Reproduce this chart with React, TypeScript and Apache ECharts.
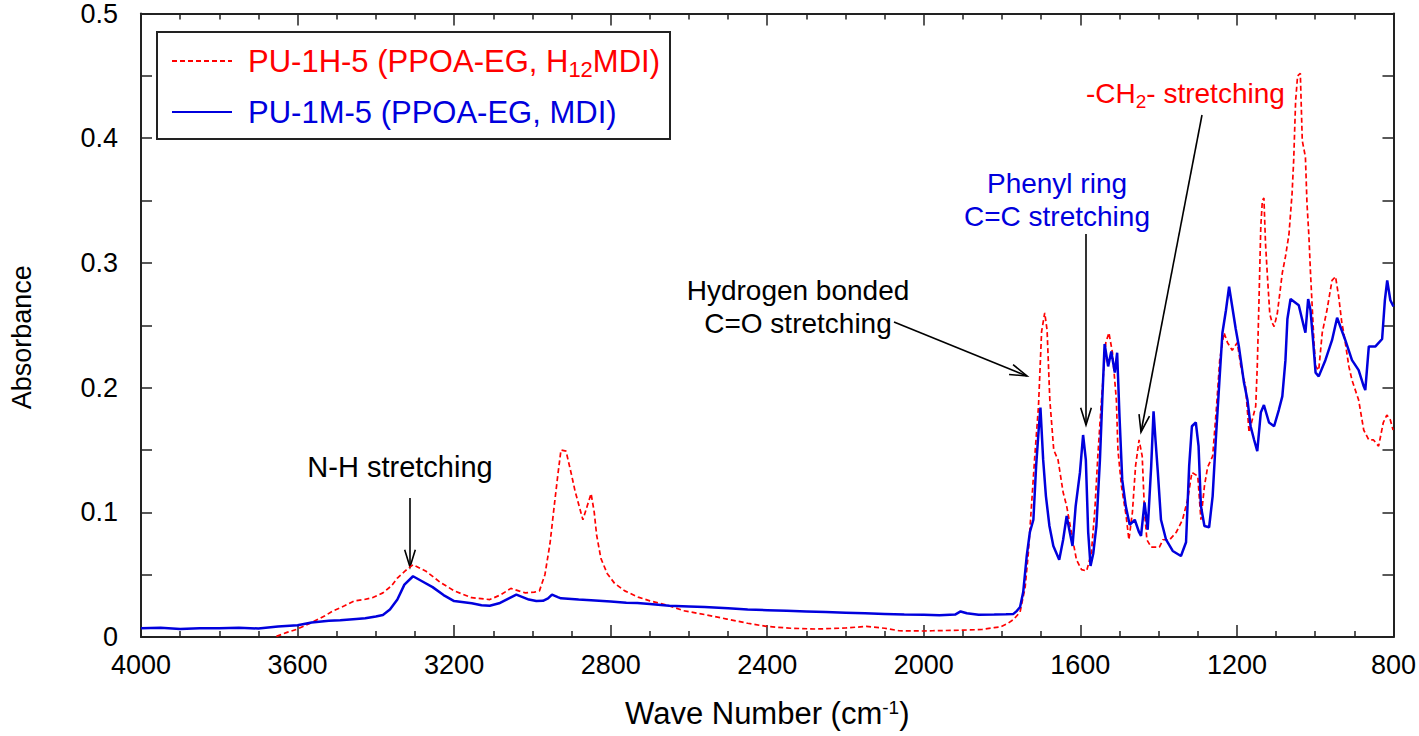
import React, { useEffect, useRef } from 'react';
import * as echarts from 'echarts';

// PU-1M-5 (PPOA-EG, MDI) spectrum
const mdiWaveNumber = [
  4000, 3950, 3900, 3850, 3800, 3750, 3700, 3650, 3600, 3564, 3520, 3491, 3450, 3427, 3400, 3382, 3364, 3345, 3327, 3305,
  3282, 3255, 3227, 3200, 3180, 3155, 3130, 3109, 3085, 3060, 3041, 3025, 3009, 2990, 2973, 2960, 2950, 2935, 2927, 2900,
  2882, 2850, 2800, 2760, 2732, 2700, 2650, 2600, 2560, 2500, 2450, 2400, 2350, 2300, 2250, 2200, 2150, 2100, 2050, 2000,
  1960, 1920, 1906, 1890, 1860, 1820, 1790, 1771, 1762, 1754, 1746, 1737, 1729, 1720, 1713, 1707, 1702, 1695, 1688, 1679,
  1669, 1654, 1644, 1635, 1627, 1620, 1612, 1601, 1593, 1586, 1580, 1574, 1567, 1559, 1550, 1544, 1538, 1529, 1521, 1512,
  1506, 1500, 1493, 1484, 1474, 1461, 1450, 1445, 1436, 1428, 1419, 1413, 1408, 1402, 1394, 1381, 1364, 1343, 1330, 1322,
  1315, 1305, 1298, 1292, 1283, 1271, 1262, 1254, 1245, 1237, 1228, 1220, 1212, 1203, 1195, 1182, 1173, 1165, 1156, 1148,
  1139, 1131, 1118, 1105, 1093, 1084, 1076, 1071, 1063, 1042, 1029, 1025, 1018, 1012, 1006, 999, 991, 974, 957, 944,
  923, 906, 889, 876, 872, 863, 846, 829, 822, 816, 808, 800,
];
const mdiAbsorbance = [
  0.007, 0.0075, 0.0065, 0.007, 0.007, 0.0075, 0.0068, 0.0085, 0.0095, 0.0116, 0.013, 0.0135, 0.0145, 0.015, 0.0165, 0.0177, 0.022, 0.030, 0.042, 0.0487,
  0.0447, 0.040, 0.0336, 0.0288, 0.028, 0.027, 0.0255, 0.025, 0.027, 0.031, 0.034, 0.032, 0.030, 0.0288, 0.029, 0.031, 0.034, 0.032, 0.031, 0.0305,
  0.030, 0.0295, 0.0285, 0.0275, 0.0272, 0.0265, 0.025, 0.0245, 0.024, 0.023, 0.022, 0.0215, 0.021, 0.0205, 0.020, 0.0195, 0.019, 0.0185, 0.018, 0.0178,
  0.0175, 0.018, 0.0205, 0.019, 0.0178, 0.018, 0.0182, 0.0185, 0.021, 0.024, 0.036, 0.065, 0.084, 0.094, 0.137, 0.164, 0.184, 0.142, 0.113, 0.089,
  0.073, 0.062, 0.078, 0.097, 0.084, 0.073, 0.105, 0.132, 0.162, 0.142, 0.084, 0.057, 0.067, 0.089, 0.142, 0.190, 0.235, 0.217, 0.229, 0.212,
  0.228, 0.177, 0.126, 0.105, 0.090, 0.094, 0.084, 0.081, 0.108, 0.086, 0.137, 0.181, 0.158, 0.132, 0.094, 0.078, 0.069, 0.065, 0.076, 0.137,
  0.169, 0.172, 0.153, 0.105, 0.089, 0.088, 0.113, 0.158, 0.204, 0.244, 0.262, 0.281, 0.265, 0.247, 0.233, 0.204, 0.190, 0.169, 0.158, 0.149,
  0.180, 0.186, 0.172, 0.169, 0.182, 0.193, 0.222, 0.255, 0.271, 0.266, 0.249, 0.244, 0.271, 0.262, 0.240, 0.212, 0.209, 0.222, 0.238, 0.256,
  0.238, 0.222, 0.214, 0.201, 0.198, 0.233, 0.233, 0.239, 0.270, 0.286, 0.270, 0.265,
];

// PU-1H-5 (PPOA-EG, H12MDI) spectrum
const h12WaveNumber = [
  3654, 3627, 3600, 3564, 3530, 3509, 3480, 3455, 3430, 3409, 3382, 3360, 3345, 3325, 3305, 3273, 3236, 3200, 3155, 3109,
  3080, 3055, 3035, 3018, 2995, 2982, 2968, 2955, 2945, 2935, 2927, 2914, 2900, 2891, 2871, 2860, 2850, 2842, 2836, 2825,
  2809, 2790, 2764, 2730, 2700, 2650, 2614, 2560, 2503, 2450, 2402, 2340, 2275, 2200, 2147, 2100, 2063, 2000, 1978, 1900,
  1851, 1820, 1805, 1785, 1771, 1754, 1741, 1733, 1726, 1716, 1707, 1699, 1691, 1685, 1678, 1668, 1657, 1644, 1635, 1623,
  1610, 1597, 1584, 1572, 1563, 1555, 1546, 1535, 1527, 1518, 1508, 1504, 1495, 1483, 1476, 1467, 1459, 1450, 1442, 1436,
  1430, 1419, 1398, 1389, 1372, 1355, 1339, 1326, 1315, 1300, 1292, 1283, 1275, 1262, 1252, 1244, 1233, 1224, 1212, 1199,
  1190, 1178, 1169, 1161, 1152, 1148, 1144, 1139, 1135, 1131, 1127, 1122, 1116, 1110, 1105, 1097, 1084, 1076, 1067, 1059,
  1055, 1050, 1045, 1038, 1033, 1025, 1021, 1016, 1012, 1003, 999, 991, 982, 970, 957, 948, 940, 932, 927, 914,
  906, 889, 876, 863, 851, 838, 826, 817, 808, 801,
];
const h12Absorbance = [
  0.0005, 0.0037, 0.0064, 0.0116, 0.017, 0.021, 0.025, 0.029, 0.030, 0.0315, 0.0354, 0.041, 0.0473, 0.053, 0.058, 0.053, 0.044, 0.037, 0.0315, 0.030,
  0.034, 0.039, 0.037, 0.0354, 0.036, 0.037, 0.050, 0.075, 0.103, 0.130, 0.150, 0.149, 0.130, 0.117, 0.094, 0.105, 0.115, 0.100, 0.082, 0.063,
  0.051, 0.043, 0.037, 0.032, 0.029, 0.025, 0.0211, 0.018, 0.0144, 0.011, 0.0085, 0.007, 0.0064, 0.0072, 0.0085, 0.007, 0.005, 0.0048, 0.005, 0.0055,
  0.006, 0.0075, 0.008, 0.011, 0.014, 0.020, 0.040, 0.067, 0.100, 0.147, 0.185, 0.245, 0.260, 0.246, 0.190, 0.150, 0.142, 0.116, 0.105, 0.084,
  0.062, 0.054, 0.053, 0.067, 0.102, 0.147, 0.190, 0.236, 0.244, 0.228, 0.190, 0.150, 0.121, 0.097, 0.078, 0.100, 0.137, 0.158, 0.145, 0.100,
  0.078, 0.072, 0.072, 0.078, 0.078, 0.084, 0.094, 0.110, 0.132, 0.129, 0.094, 0.121, 0.136, 0.145, 0.185, 0.222, 0.244, 0.236, 0.230, 0.236,
  0.217, 0.201, 0.164, 0.174, 0.185, 0.217, 0.265, 0.329, 0.350, 0.352, 0.316, 0.289, 0.259, 0.252, 0.249, 0.259, 0.292, 0.305, 0.323, 0.356,
  0.382, 0.430, 0.450, 0.452, 0.398, 0.385, 0.348, 0.321, 0.292, 0.236, 0.217, 0.214, 0.244, 0.262, 0.286, 0.289, 0.273, 0.252, 0.244, 0.217,
  0.206, 0.190, 0.166, 0.158, 0.158, 0.153, 0.172, 0.178, 0.174, 0.166,
];

const seriesNames = ['PU-1H-5 (PPOA-EG, H12MDI)', 'PU-1M-5 (PPOA-EG, MDI)'];

const RED = '#ff0000';
const BLUE = '#0000dd';
const AXIS = '#222222';
const FONT = '"Liberation Sans", Arial, Helvetica, sans-serif';

function zip(xs: number[], ys: number[]) {
  return xs.map((x, i) => [x, ys[i]]);
}

function arrow(x1: number, y1: number, x2: number, y2: number) {
  const ang = Math.atan2(y2 - y1, x2 - x1);
  const L = 18;
  const a = 0.3;
  const p1 = [x2 - L * Math.cos(ang - a), y2 - L * Math.sin(ang - a)];
  const p2 = [x2 - L * Math.cos(ang + a), y2 - L * Math.sin(ang + a)];
  return [
    { type: 'line', shape: { x1, y1, x2, y2 }, style: { stroke: '#000', lineWidth: 1.6 }, silent: true },
    { type: 'polyline', shape: { points: [p1, [x2, y2], p2] }, style: { stroke: '#000', lineWidth: 1.6, fill: null }, silent: true },
  ];
}

function annotation(x: number, y: number, text: string, color: string, size = 28) {
  return {
    type: 'text',
    x,
    y,
    silent: true,
    style: {
      text,
      fill: color,
      fontSize: size,
      fontFamily: FONT,
      align: 'center',
      verticalAlign: 'middle',
      lineHeight: 33,
    },
  };
}

function makeXAxis(position: 'bottom' | 'top', showLabels: boolean) {
  return {
    type: 'value',
    position,
    min: 800,
    max: 4000,
    interval: 400,
    inverse: true,
    axisLine: { show: true, onZero: false, lineStyle: { color: AXIS, width: 2 } },
    axisTick: { show: true, inside: true, length: 12, lineStyle: { color: AXIS, width: 1.5 } },
    minorTick: { show: true, splitNumber: 4, length: 6, lineStyle: { color: AXIS, width: 1.5 } },
    splitLine: { show: false },
    minorSplitLine: { show: false },
    axisLabel: {
      show: showLabels,
      fontSize: 27,
      color: '#000',
      fontFamily: FONT,
      margin: 14,
      formatter: (v: number) => String(v),
    },
  };
}

function makeYAxis(position: 'left' | 'right', showLabels: boolean) {
  return {
    type: 'value',
    position,
    min: 0,
    max: 0.5,
    interval: 0.1,
    axisLine: { show: true, onZero: false, lineStyle: { color: AXIS, width: 2 } },
    axisTick: { show: true, inside: true, length: 11, lineStyle: { color: AXIS, width: 1.5 } },
    minorTick: { show: true, splitNumber: 2, length: 11, lineStyle: { color: AXIS, width: 1.5 } },
    splitLine: { show: false },
    minorSplitLine: { show: false },
    axisLabel: {
      show: showLabels,
      fontSize: 27,
      color: '#000',
      fontFamily: FONT,
      margin: 23,
      formatter: (v: number) => (v === 0 ? '0' : v.toFixed(1)),
    },
  };
}

export default function App() {
  const ref = useRef<HTMLDivElement>(null);

  useEffect(() => {
    if (!ref.current) return;
    const chart = echarts.init(ref.current, undefined, { renderer: 'svg' });

    const xBottom: any = makeXAxis('bottom', true);
    xBottom.name = 'Wave Number (cm{sup|-1})';
    xBottom.nameLocation = 'middle';
    xBottom.nameGap = 61;
    xBottom.nameTextStyle = {
      fontSize: 31,
      color: '#000',
      fontFamily: FONT,
      rich: {
        sup: { fontSize: 19, color: '#000', fontFamily: FONT, lineHeight: 19, verticalAlign: 'top', padding: [0, 0, 14, 0] },
      },
    };
    const yLeft: any = makeYAxis('left', true);
    yLeft.name = 'Absorbance';
    yLeft.nameLocation = 'middle';
    yLeft.nameGap = 106;
    yLeft.nameTextStyle = { fontSize: 27, color: '#000', fontFamily: FONT, padding: [0, 24, 0, 0] };

    const option: any = {
      animation: false,
      backgroundColor: '#fff',
      grid: { left: 137, right: 24, top: 12, bottom: 98, containLabel: false },
      xAxis: [xBottom, makeXAxis('top', false)],
      yAxis: [yLeft, makeYAxis('right', false)],
      legend: {
        orient: 'vertical',
        left: 157,
        top: 32,
        padding: [8, 10, 8, 14],
        itemGap: 13,
        itemWidth: 60,
        itemHeight: 14,
        borderColor: AXIS,
        borderWidth: 2,
        backgroundColor: '#fff',
        selectedMode: false,
        itemStyle: { opacity: 0 },
        data: [
          { name: seriesNames[0], textStyle: { color: RED } },
          { name: seriesNames[1], textStyle: { color: BLUE } },
        ],
        formatter: (name: string) => (name === seriesNames[0] ? 'PU-1H-5 (PPOA-EG, H{sub|12}MDI)' : name),
        textStyle: {
          fontSize: 31,
          fontFamily: FONT,
          lineHeight: 38,
          padding: [0, 0, 0, 11],
          rich: {
            sub: { fontSize: 22, color: RED, fontFamily: FONT, lineHeight: 22, verticalAlign: 'bottom', padding: [18, 0, 0, 0] },
          },
        },
      },
      series: [
        {
          name: seriesNames[0],
          type: 'line',
          xAxisIndex: 0,
          yAxisIndex: 0,
          symbol: 'none',
          data: zip(h12WaveNumber, h12Absorbance),
          lineStyle: { color: RED, width: 1.7, type: [5, 3] },
          itemStyle: { color: RED },
          z: 3,
        },
        {
          name: seriesNames[1],
          type: 'line',
          xAxisIndex: 0,
          yAxisIndex: 0,
          symbol: 'none',
          data: zip(mdiWaveNumber, mdiAbsorbance),
          lineStyle: { color: BLUE, width: 2.5, type: 'solid' },
          itemStyle: { color: BLUE },
          z: 4,
        },
      ],
      graphic: [
        annotation(400, 467, 'N-H stretching', '#000', 29),
        ...arrow(410, 498, 410, 567),
        annotation(798, 307, 'Hydrogen bonded\nC=O stretching', '#000'),
        ...arrow(894, 322, 1027, 376),
        annotation(1057, 200, 'Phenyl ring\nC=C stretching', BLUE),
        ...arrow(1086, 234, 1086, 425),
        {
          type: 'text',
          x: 1086,
          y: 93,
          silent: true,
          style: {
            text: '-CH{sub|2}- stretching',
            fill: RED,
            fontSize: 28,
            fontFamily: FONT,
            align: 'left',
            verticalAlign: 'middle',
            rich: {
              sub: { fontSize: 19, fill: RED, fontFamily: FONT, verticalAlign: 'bottom', padding: [16, 0, 0, 0] },
            },
          },
        },
        ...arrow(1202, 115, 1141, 432),
      ],
    };

    chart.setOption(option);
    return () => chart.dispose();
  }, []);

  return (
    <div
      ref={ref}
      style={{ position: 'absolute', left: 0, top: 0, width: 1419, height: 736, background: '#fff' }}
    />
  );
}
